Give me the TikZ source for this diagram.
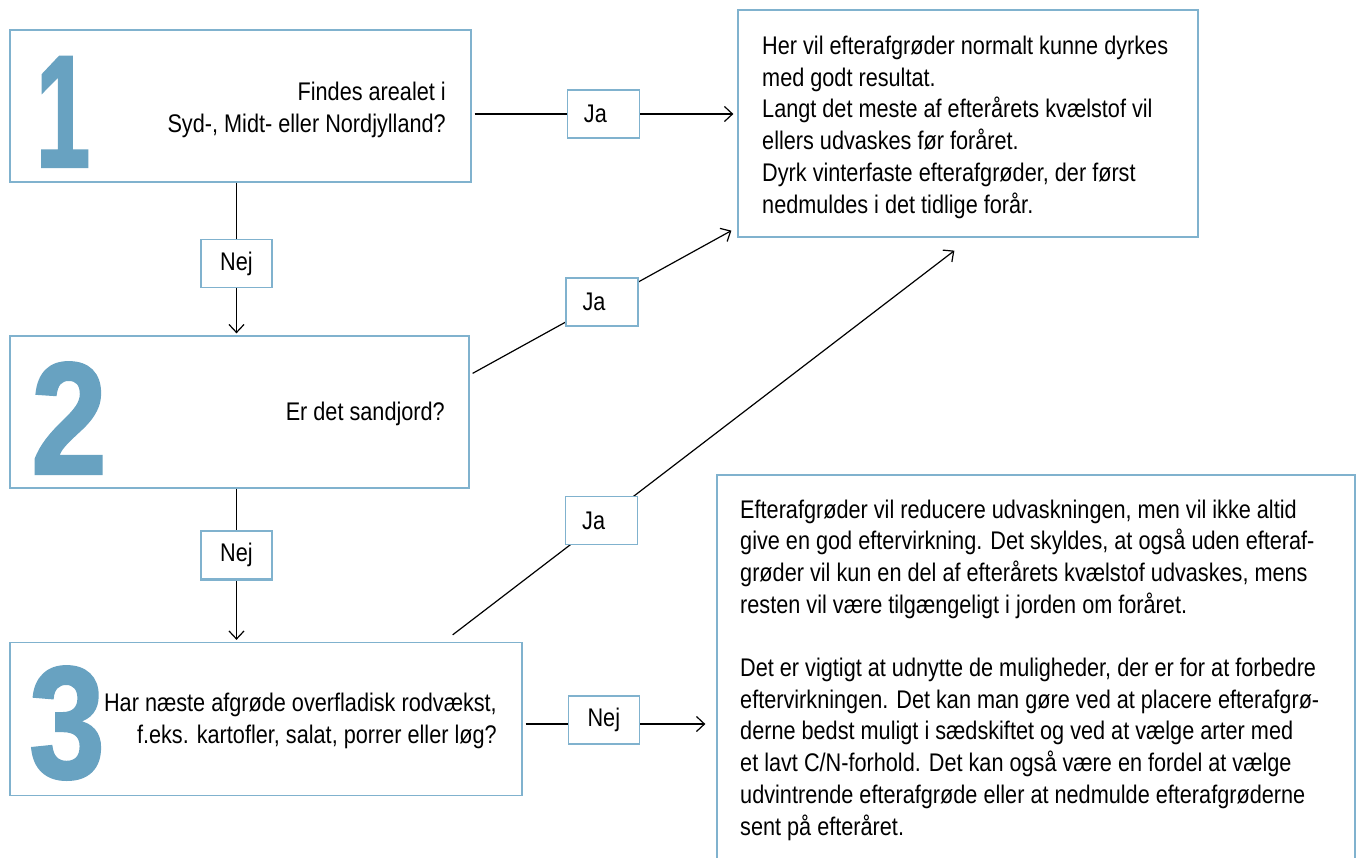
\documentclass[tikz,border=0pt]{standalone}
\usepackage{fontspec}
\setmainfont{Liberation Sans}[FakeStretch=0.85]
\newfontfamily\numfont{Liberation Sans}[FakeStretch=0.85, BoldFeatures={FakeBold=1.5}]
\usetikzlibrary{arrows.meta,calc}
\definecolor{bordercol}{RGB}{128,178,206}
\definecolor{numcol}{RGB}{104,162,193}
\begin{document}
\begin{tikzpicture}[x=1pt,y=-1pt,
  box/.style={draw=bordercol, line width=1.3pt, fill=white, inner sep=0pt},
  lbl/.style={draw=bordercol, line width=1.3pt, fill=white, minimum width=72pt, minimum height=48pt, inner sep=0pt, font=\fontsize{25.5}{32}\selectfont},
  conn/.style={line width=1.2pt, draw=black},
  arr/.style={conn, -{Straight Barb[length=8pt,width=15pt,line width=1.2pt]}},
  numeral/.style={font=\numfont\fontsize{160}{160}\selectfont\bfseries, text=numcol, inner sep=0pt, anchor=base},
  txt/.style={font=\fontsize{25.5}{31.7}\selectfont, inner sep=0pt}
]
\useasboundingbox (0,0) rectangle (1363,857);

% question boxes
\node[box, minimum width=461pt, minimum height=152pt] (b1) at (240.5,106) {};
\node[box, minimum width=459pt, minimum height=152pt] (b2) at (239.5,412) {};
\node[box, minimum width=512pt, minimum height=153pt] (b3) at (266,719) {};
% answer boxes
\node[box, minimum width=460pt, minimum height=227pt] (r1) at (968,123.5) {};
\node[box, minimum width=638pt, minimum height=420pt] (r2) at (1036,685) {};

% numerals
\node[numeral] (n1) at (63,167) {\scalebox{0.72}[1]{1}};
\node[numeral] (n2) at (69,474) {2};
\node[numeral] (n3) at (67,778) {3};

% question texts (base = last line)
\node[txt, anchor=base east, align=right] (t1) at (446,132) {Findes arealet i\\Syd-, Midt- eller Nordjylland?};
\node[txt, anchor=base east, align=right] (t2) at (445,420) {Er det sandjord?};
\node[txt, anchor=base east, align=right] (t3) at (497,743) {Har næste afgrøde overfladisk rodvækst,\\f.eks. kartofler, salat, porrer eller løg?};

% answer texts (base = last line)
\node[txt, anchor=base west, align=left] (a1) at (762,213) {Her vil efterafgrøder normalt kunne dyrkes\\med godt resultat.\\Langt det meste af efterårets kvælstof vil\\ellers udvaskes før foråret.\\Dyrk vinterfaste efterafgrøder, der først\\nedmuldes i det tidlige forår.};
\node[txt, anchor=base west, align=left] (a2) at (740,835) {Efterafgrøder vil reducere udvaskningen, men vil ikke altid\\give en god eftervirkning. Det skyldes, at også uden efteraf-\\grøder vil kun en del af efterårets kvælstof udvaskes, mens\\resten vil være tilgængeligt i jorden om foråret.\\[31.7pt]Det er vigtigt at udnytte de muligheder, der er for at forbedre\\eftervirkningen. Det kan man gøre ved at placere efterafgrø-\\derne bedst muligt i sædskiftet og ved at vælge arter med\\et lavt C/N-forhold. Det kan også være en fordel at vælge\\udvintrende efterafgrøde eller at nedmulde efterafgrøderne\\sent på efteråret.};

% connector end points
\coordinate (s1) at ($(b1.east)+(3,8)$);
\coordinate (s2) at ($(b2.north east)+(3,38)$);
\coordinate (e2) at ($(r1.south west)+(-6,-7)$);
\coordinate (s3) at ($(b3.north east)+(-70,-7)$);
\coordinate (e3) at ($(r1.south west)+(217,13)$);
\coordinate (s4) at ($(b1.south)+(-4,0)$);
\coordinate (s5) at ($(b2.south)+(-3,0)$);
\coordinate (s6) at ($(b3.east)+(3,5)$);

% connectors
\draw[arr, shorten >=4pt] (s1) -- node[lbl, pos=0.49] (ja1) {Ja\hspace*{16pt}} (s1 -| r1.west);
\draw[arr] (s2) -- node[lbl, pos=0.5] (ja2) {Ja\hspace*{16pt}} (e2);
\draw[arr] (s3) -- node[lbl, pos=0.297] (ja3) {Ja\hspace*{16pt}} (e3);

\draw[arr, shorten >=2pt] (s4) -- node[lbl, pos=0.53, minimum width=71pt] (nej1) {Nej} (s4 |- b2.north);
\draw[arr, shorten >=2pt] (s5) -- node[lbl, pos=0.435, minimum width=71pt, line width=2.4pt] (nej2) {Nej} (s5 |- b3.north);
\draw[arr, shorten >=11pt] (s6) -- node[lbl, pos=0.41, minimum width=71pt, yshift=4pt] (nej3) {Nej} (s6 -| r2.west);
\end{tikzpicture}
\end{document}
